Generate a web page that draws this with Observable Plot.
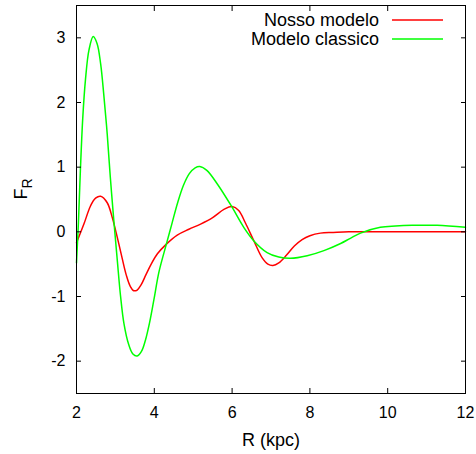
<!DOCTYPE html>
<html><head><meta charset="utf-8">
<script src="https://cdn.jsdelivr.net/npm/d3@7"></script>
<script src="https://cdn.jsdelivr.net/npm/@observablehq/plot@0.6"></script>
<style>body{margin:0;background:#fff}#chart{width:476px;height:454px}</style>
</head><body><div id="chart"></div>
<script>
const seriesNames = ["Nosso modelo", "Modelo classico"];
const seriesColors = ["#ff0000", "#00ff00"];

const nossoR = [2.00, 2.19, 2.36, 2.49, 2.62, 2.79, 2.92, 3.05, 3.17, 3.28, 3.38, 3.47, 3.56, 3.66, 3.78, 3.92, 4.08, 4.31, 4.59, 4.89, 5.19, 5.50, 5.80, 6.00, 6.17, 6.34, 6.56, 6.77, 6.92, 7.05, 7.20, 7.40, 7.60, 7.80, 8.00, 8.27, 8.60, 9.00, 10.0, 11.0, 12.0];
const nossoF = [-0.17, 0.12, 0.40, 0.52, 0.55, 0.45, 0.22, -0.09, -0.40, -0.67, -0.84, -0.91, -0.90, -0.82, -0.67, -0.50, -0.34, -0.19, -0.05, 0.04, 0.12, 0.22, 0.35, 0.39, 0.33, 0.14, -0.14, -0.40, -0.50, -0.52, -0.48, -0.36, -0.22, -0.12, -0.06, -0.02, -0.01, 0, 0, 0, 0];

const classicoR = [2.00, 2.05, 2.10, 2.16, 2.23, 2.32, 2.43, 2.53, 2.62, 2.70, 2.79, 2.87, 2.96, 3.05, 3.13, 3.22, 3.34, 3.45, 3.56, 3.67, 3.77, 3.88, 3.99, 4.12, 4.31, 4.45, 4.60, 4.75, 4.90, 5.05, 5.17, 5.35, 5.62, 5.98, 6.30, 6.56, 6.90, 7.20, 7.50, 7.93, 8.36, 8.79, 9.04, 9.30, 9.81, 10.20, 10.63, 11.27, 12.0];
const classicoF = [-0.48, 0.15, 0.95, 1.75, 2.35, 2.81, 3.02, 2.91, 2.60, 2.13, 1.51, 0.84, 0.17, -0.45, -0.98, -1.42, -1.74, -1.89, -1.92, -1.85, -1.68, -1.40, -1.05, -0.62, -0.19, 0.12, 0.45, 0.72, 0.90, 0.99, 1.01, 0.95, 0.74, 0.40, 0.07, -0.14, -0.32, -0.39, -0.41, -0.37, -0.29, -0.18, -0.10, -0.02, 0.07, 0.09, 0.10, 0.10, 0.07];

const xTicks = [2, 4, 6, 8, 10, 12];
const yTicks = [-2, -1, 0, 1, 2, 3];
const xLabel = "R (kpc)";
const yLabelMain = "F";
const yLabelSub = "R";

const nosso = nossoR.map((r, i) => ({r, f: nossoF[i]}));
const classico = classicoR.map((r, i) => ({r, f: classicoF[i]}));

const font = "'Liberation Sans', Arial, Helvetica, sans-serif";
const blank = () => "";

const plot = Plot.plot({
  width: 476,
  height: 454,
  marginLeft: 76,
  marginRight: 11,
  marginTop: 5,
  marginBottom: 61,
  style: {fontFamily: font, fontSize: "16px", color: "#000", background: "#fff", overflow: "visible"},
  x: {domain: [2, 12]},
  y: {domain: [-2.5, 3.5]},
  marks: [
    Plot.line(nosso, {x: "r", y: "f", stroke: seriesColors[0], strokeWidth: 1.5, curve: "catmull-rom"}),
    Plot.line(classico, {x: "r", y: "f", stroke: seriesColors[1], strokeWidth: 1.5, curve: "catmull-rom"}),
    Plot.axisX(xTicks, {anchor: "bottom", tickSize: 0, tickPadding: 13, label: null, fontSize: 16}),
    Plot.axisY(yTicks, {anchor: "left", tickSize: 0, tickPadding: 11, label: null, fontSize: 16, tickFormat: d => d < 0 ? "-" + Math.abs(d) : String(d)}),
    Plot.axisX(xTicks, {anchor: "bottom", tickSize: 5, dy: -5, tickFormat: blank, label: null}),
    Plot.axisX(xTicks, {anchor: "top", tickSize: 5, dy: 5, tickFormat: blank, label: null}),
    Plot.axisY(yTicks, {anchor: "left", tickSize: 5, dx: 5, tickFormat: blank, label: null}),
    Plot.axisY(yTicks, {anchor: "right", tickSize: 5, dx: -5, tickFormat: blank, label: null}),
    Plot.frame({stroke: "#000", strokeWidth: 1}),
    Plot.text([xLabel], {text: d => d, frameAnchor: "bottom", dy: 47, fontSize: 18, lineAnchor: "middle"}),
    Plot.text([yLabelMain], {text: d => d, frameAnchor: "left", rotate: -90, dx: -55, fontSize: 18, lineAnchor: "middle"})
  ]
});

document.getElementById("chart").appendChild(plot);

// subscript on the y label
const svg = d3.select(plot);
svg.selectAll("text").filter(function() { return this.textContent === yLabelMain && this.getAttribute("transform") && this.getAttribute("transform").includes("rotate"); })
  .each(function() {
    d3.select(this).append("tspan").attr("font-size", 14).attr("dy", 5).text(yLabelSub);
  });

// legend (top-right inside the frame)
const frameRight = 476 - 11, frameTop = 5;
const legend = svg.append("g").attr("font-family", font).attr("font-size", 18);
seriesNames.forEach((name, i) => {
  const cy = frameTop + 15 + 19 * i;
  legend.append("text").attr("x", frameRight - 86).attr("y", cy).attr("dy", "0.35em")
    .attr("text-anchor", "end").attr("fill", "#000").text(name);
  legend.append("line").attr("x1", frameRight - 73).attr("x2", frameRight - 22)
    .attr("y1", cy).attr("y2", cy).attr("stroke", seriesColors[i]).attr("stroke-width", 1.5);
});
</script>
</body></html>
